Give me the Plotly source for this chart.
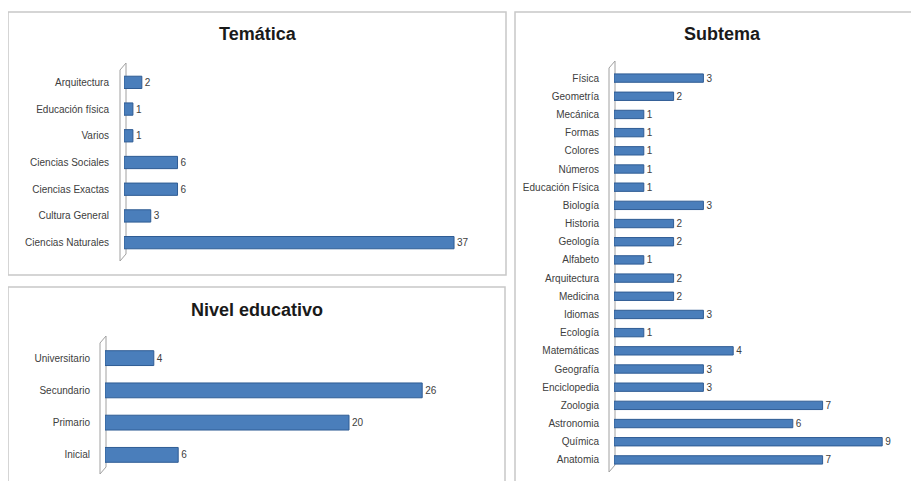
import plotly.graph_objects as go

# page body adds an 8px margin; figure is sized so that it fills the 919x481 window
OFF = 8
W, H = 919 - OFF, 481 - OFF

# ---- data ----
tematica_cats = ["Arquitectura", "Educación física", "Varios", "Ciencias Sociales",
                 "Ciencias Exactas", "Cultura General", "Ciencias Naturales"]
tematica_vals = [2, 1, 1, 6, 6, 3, 37]

nivel_cats = ["Universitario", "Secundario", "Primario", "Inicial"]
nivel_vals = [4, 26, 20, 6]

subtema_cats = ["Física", "Geometría", "Mecánica", "Formas", "Colores", "Números",
                "Educación Física", "Biología", "Historia", "Geología", "Alfabeto",
                "Arquitectura", "Medicina", "Idiomas", "Ecología", "Matemáticas",
                "Geografía", "Enciclopedia", "Zoologia", "Astronomia", "Química", "Anatomia"]
subtema_vals = [3, 2, 1, 1, 1, 1, 1, 3, 2, 2, 1, 2, 2, 3, 1, 4, 3, 3, 7, 6, 9, 7]


def px(x):
    return (x - OFF) / W


def py(y):
    return 1 - (y - OFF) / H


BAR = "#4A7EBB"
EDGE = "#2F5C94"
TXT = "#404040"
FONT = "Liberation Sans"

fig = go.Figure()


def add_panel(idx, cats, vals, x0, x1, y0, y1, xmax):
    xa = "x" if idx == 1 else f"x{idx}"
    ya = "y" if idx == 1 else f"y{idx}"
    fig.add_trace(go.Bar(
        x=vals, y=cats, orientation="h", xaxis=xa, yaxis=ya,
        marker=dict(color=BAR, line=dict(color=EDGE, width=1)),
        text=vals, textposition="outside", cliponaxis=False, constraintext="none",
        textfont=dict(family=FONT, size=10, color=TXT),
        showlegend=False, hoverinfo="x+y",
    ))
    xkey = "xaxis" if idx == 1 else f"xaxis{idx}"
    ykey = "yaxis" if idx == 1 else f"yaxis{idx}"
    fig.layout[xkey] = dict(domain=[px(x0), px(x1)], range=[0, xmax], visible=False,
                            anchor=ya, fixedrange=True)
    fig.layout[ykey] = dict(domain=[py(y1), py(y0)], autorange="reversed", anchor=xa,
                            showgrid=False, showline=False, zeroline=False,
                            ticks="outside", ticklen=12, tickcolor="rgba(0,0,0,0)",
                            tickfont=dict(family=FONT, size=10, color=TXT),
                            type="category", fixedrange=True)


# Temática
add_panel(1, tematica_cats, tematica_vals, 124, 500, 69, 256, (500 - 124) / 8.92)
# Nivel educativo
add_panel(2, nivel_cats, nivel_vals, 105, 500, 342, 471, (500 - 105) / 12.2)
# Subtema
add_panel(3, subtema_cats, subtema_vals, 614, 912, 69, 469, (912 - 614) / 29.8)

shapes = []
# panel borders
for (a, b, c, d) in [(8, 12, 506, 275), (8, 287, 505, 490), (515, 12, 930, 490)]:
    shapes.append(dict(type="rect", xref="paper", yref="paper",
                       x0=px(a), x1=px(c), y0=py(d), y1=py(b),
                       line=dict(color="#C8C8C8", width=1.5), fillcolor="rgba(0,0,0,0)",
                       layer="below"))


def wall(xl, ytop, ybot, w=6, slant=7):
    path = (f"M {px(xl)},{py(ybot)} L {px(xl)},{py(ytop)} "
            f"L {px(xl + w)},{py(ytop - slant)} L {px(xl + w)},{py(ybot - slant)} Z")
    return dict(type="path", xref="paper", yref="paper", path=path,
                line=dict(color="#A0A0A0", width=1), fillcolor="rgba(255,255,255,0)",
                layer="below")


shapes.append(wall(120, 70, 261))
shapes.append(wall(100, 343, 474))
shapes.append(wall(609, 68, 472))

annotations = [
    dict(text="<b>Temática</b>", x=px(258), y=py(34)),
    dict(text="<b>Nivel educativo</b>", x=px(257), y=py(310)),
    dict(text="<b>Subtema</b>", x=px(722), y=py(34)),
]
for a in annotations:
    a.update(xref="paper", yref="paper", xanchor="center", yanchor="middle",
             showarrow=False, font=dict(family=FONT, size=18, color="#1a1a1a"))

fig.update_layout(
    width=W, height=H, margin=dict(l=0, r=0, t=0, b=0),
    paper_bgcolor="white", plot_bgcolor="rgba(0,0,0,0)",
    bargap=0.54, shapes=shapes, annotations=annotations,
)

fig.write_html("out.html")
